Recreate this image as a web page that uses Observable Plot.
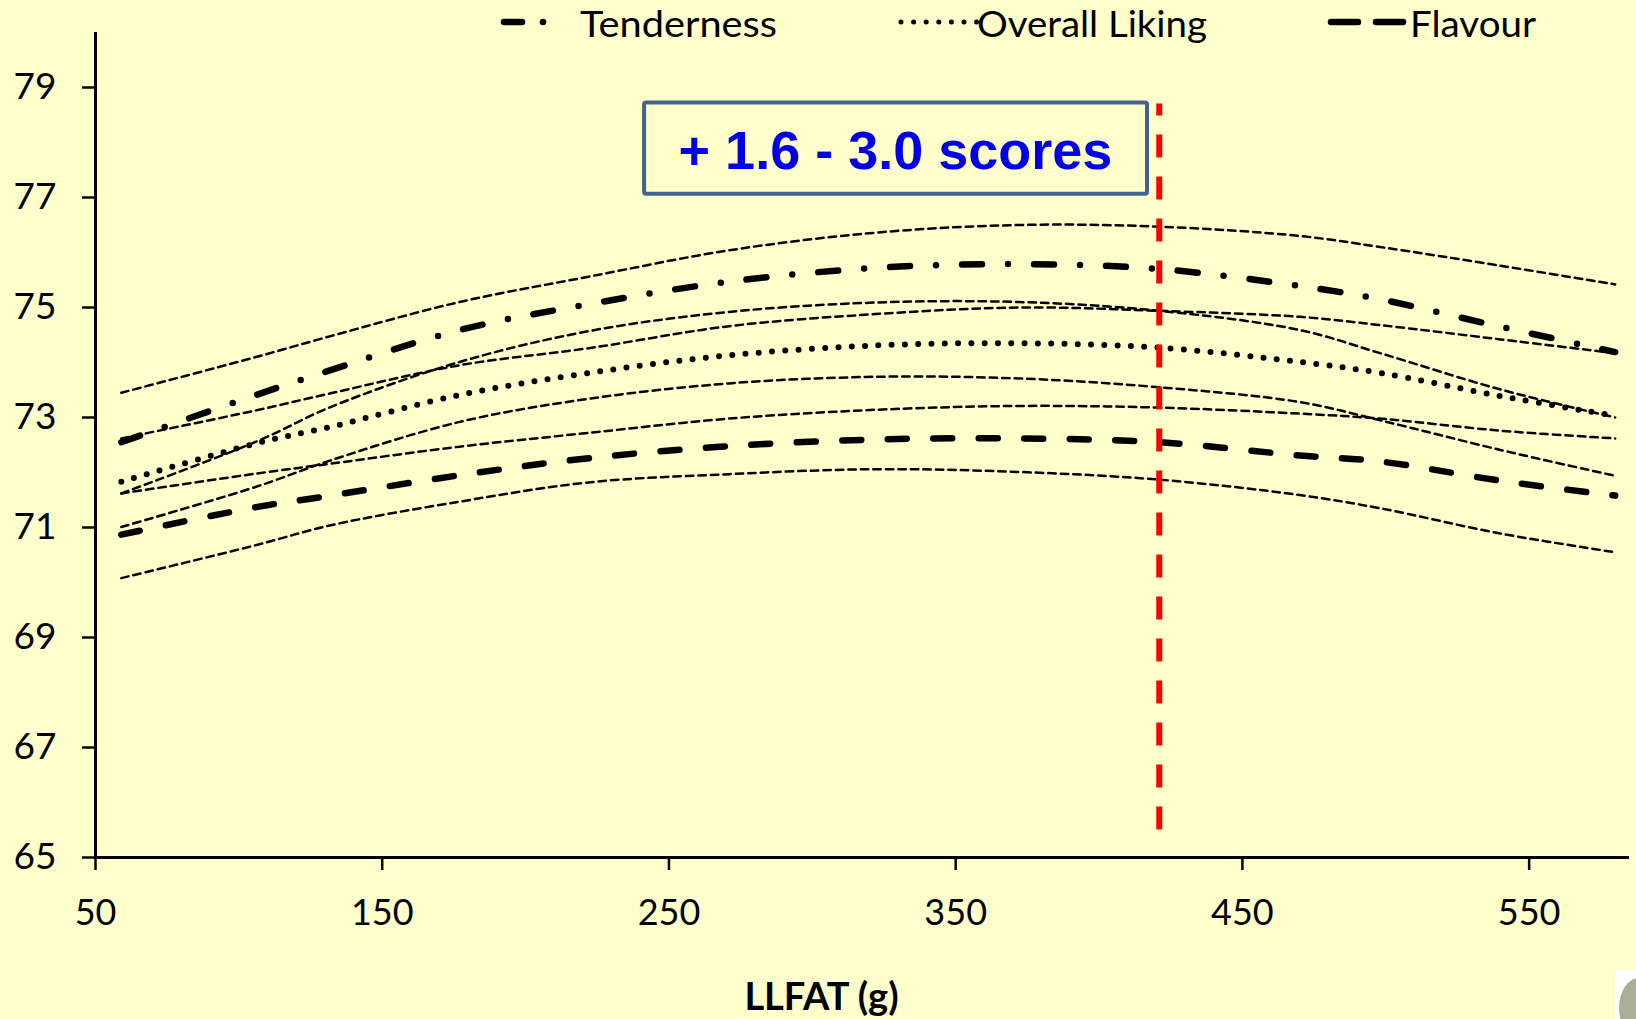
<!DOCTYPE html>
<html>
<head>
<meta charset="utf-8">
<script src="https://cdn.jsdelivr.net/npm/d3@7"></script>
<script src="https://cdn.jsdelivr.net/npm/@observablehq/plot@0.6"></script>
<style>
  html, body { margin: 0; padding: 0; background: #FFFFCC; }
  #wrap { position: relative; width: 1636px; height: 1019px; overflow: hidden; background: #FFFFCC; }
  #legend { position: absolute; left: 0; top: 0; pointer-events: none; overflow: visible; }
  #corner { position: absolute; left: 1615px; top: 970px; width: 21px; height: 49px; background: #ffffff; overflow: hidden; }
  #corner div { position: absolute; left: 4px; top: 8px; width: 40px; height: 60px; border-radius: 50%; background: #a8ae98; }
</style>
</head>
<body>
<div id="wrap">
  <div id="chart"></div>
  <svg id="legend" width="1636" height="60"></svg>
  <div id="corner"><div></div></div>
</div>
<script>
// ---- data ----
const llfat = [59, 106, 132, 177, 222, 271, 322, 372, 421, 470, 498, 540, 580];

const tenderness    = [72.55, 73.41, 73.86, 74.59, 75.06, 75.47, 75.72, 75.79, 75.70, 75.39, 75.15, 74.65, 74.19];
const overallLiking = [71.83, 72.53, 72.83, 73.41, 73.81, 74.13, 74.31, 74.35, 74.27, 74.01, 73.81, 73.39, 73.03];
const flavour       = [70.87, 71.37, 71.58, 71.95, 72.26, 72.48, 72.60, 72.62, 72.55, 72.31, 72.20, 71.85, 71.58];

// confidence bands (thin dashed)
const tendernessHi = [73.45, 74.10, 74.48, 75.10, 75.56, 76.04, 76.36, 76.50, 76.47, 76.30, 76.10, 75.76, 75.42];
const tendernessLo = [72.62, 73.13, 73.44, 73.95, 74.26, 74.66, 74.88, 75.00, 74.94, 74.83, 74.68, 74.42, 74.17];
const likingHi     = [71.62, 72.56, 73.19, 74.01, 74.57, 74.92, 75.09, 75.10, 74.94, 74.59, 74.17, 73.51, 73.00];
const likingLo     = [71.01, 71.74, 72.22, 72.92, 73.34, 73.62, 73.74, 73.71, 73.55, 73.28, 72.95, 72.41, 71.94];
const flavourHi    = [71.62, 71.98, 72.16, 72.47, 72.72, 72.98, 73.14, 73.21, 73.18, 73.07, 72.98, 72.76, 72.62];
const flavourLo    = [70.08, 70.68, 71.04, 71.47, 71.82, 71.97, 72.06, 72.01, 71.87, 71.59, 71.35, 70.89, 70.55];

const xTicks = [50, 150, 250, 350, 450, 550];
const yTicks = [65, 67, 69, 71, 73, 75, 77, 79];
const xDomain = [50, 585];
const yDomain = [65, 80];

const seriesNames = ["Tenderness", "Overall Liking", "Flavour"];

// annotation
const thresholdLLFAT = [421];
const thresholdSpan = [78.70, 65.47];
const noteText = ["+ 1.6 - 3.0 scores"];
const noteBoxX = [241.5, 416.9];
const noteBoxY = [77.06, 78.72];
const noteAt = [329, 77.84];
const axisTitle = "LLFAT (g)";

// ---- build tables ----
const toRows = (ys) => llfat.map((x, i) => ({x, y: ys[i]}));
const bands = [tendernessHi, tendernessLo, likingHi, likingLo, flavourHi, flavourLo];

const thin = {x: "x", y: "y", curve: "catmull-rom", stroke: "#000", strokeWidth: 2.5, strokeDasharray: "7.5,5"};

const chart = Plot.plot({
  width: 1636,
  height: 1019,
  marginLeft: 95,
  marginRight: 7,
  marginTop: 32,
  marginBottom: 162,
  style: {background: "#FFFFCC", fontFamily: "Lato, 'Open Sans', sans-serif", color: "#000"},
  x: {domain: xDomain},
  y: {domain: yDomain},
  marks: [
    ...bands.map(b => Plot.line(toRows(b), thin)),
    Plot.line(toRows(tenderness), {x: "x", y: "y", curve: "catmull-rom", stroke: "#000", strokeWidth: 6.5,
      strokeLinecap: "round", strokeDasharray: "20,26,0,26"}),
    Plot.line(toRows(overallLiking), {x: "x", y: "y", curve: "catmull-rom", stroke: "#000", strokeWidth: 6,
      strokeLinecap: "round", strokeDasharray: "0,13.3"}),
    Plot.line(toRows(flavour), {x: "x", y: "y", curve: "catmull-rom", stroke: "#000", strokeWidth: 6.5,
      strokeLinecap: "round", strokeDasharray: "19,26.5"}),
    Plot.ruleX(thresholdLLFAT, {y1: thresholdSpan[0], y2: thresholdSpan[1], stroke: "#ff0000", strokeWidth: 6,
      strokeDasharray: "23,19", strokeDashoffset: 11}),
    Plot.rect([0], {x1: () => noteBoxX[0], x2: () => noteBoxX[1], y1: () => noteBoxY[0], y2: () => noteBoxY[1],
      fill: "none", stroke: "#41648f", strokeWidth: 4, rx: 2}),
    Plot.text(noteText, {x: () => noteAt[0], y: () => noteAt[1], text: d => d, fontSize: 54, fontWeight: "bold",
      fill: "#0000e6", fontFamily: "'Liberation Sans', Arial, sans-serif"}),
    Plot.axisX({ticks: xTicks, tickSize: 13, tickPadding: 29, fontSize: 36, label: null, strokeWidth: 2.5}),
    Plot.axisY({ticks: yTicks, tickSize: 13, tickPadding: 26, fontSize: 37, label: null, strokeWidth: 2.5}),
    Plot.ruleY([yDomain[0]], {stroke: "#000", strokeWidth: 3}),
    Plot.ruleX([xDomain[0]], {stroke: "#000", strokeWidth: 3}),
    Plot.text([axisTitle], {frameAnchor: "bottom", dx: -41, dy: 152, lineAnchor: "bottom", text: d => d,
      fontSize: 38, fontWeight: "bold", fill: "#000"})
  ]
});
document.getElementById("chart").appendChild(chart);

// ---- legend (above the plot area) ----
const lg = d3.select("#legend");
const ly = 22;
const legendItems = [
  {name: seriesNames[0], textX: 580, textW: 197},
  {name: seriesNames[1], textX: 977, textW: 230},
  {name: seriesNames[2], textX: 1410, textW: 126}
];
// Tenderness swatch: dash + dot
lg.append("line").attr("x1", 504).attr("x2", 522).attr("y1", ly).attr("y2", ly)
  .attr("stroke", "#000").attr("stroke-width", 6.5).attr("stroke-linecap", "round");
lg.append("circle").attr("cx", 543).attr("cy", ly).attr("r", 3.3).attr("fill", "#000");
// Overall Liking swatch: dots
lg.append("line").attr("x1", 901).attr("x2", 977).attr("y1", ly).attr("y2", ly)
  .attr("stroke", "#000").attr("stroke-width", 5).attr("stroke-linecap", "round").attr("stroke-dasharray", "0,12.6");
// Flavour swatch: two long dashes
lg.append("line").attr("x1", 1331).attr("x2", 1358).attr("y1", ly).attr("y2", ly)
  .attr("stroke", "#000").attr("stroke-width", 6.5).attr("stroke-linecap", "round");
lg.append("line").attr("x1", 1376).attr("x2", 1403).attr("y1", ly).attr("y2", ly)
  .attr("stroke", "#000").attr("stroke-width", 6.5).attr("stroke-linecap", "round");
legendItems.forEach(d => {
  lg.append("text").attr("x", d.textX).attr("y", 37)
    .attr("font-family", "Lato, 'Open Sans', sans-serif").attr("font-size", 37)
    .attr("textLength", d.textW).attr("lengthAdjust", "spacingAndGlyphs")
    .attr("fill", "#000").text(d.name);
});
</script>
</body>
</html>
